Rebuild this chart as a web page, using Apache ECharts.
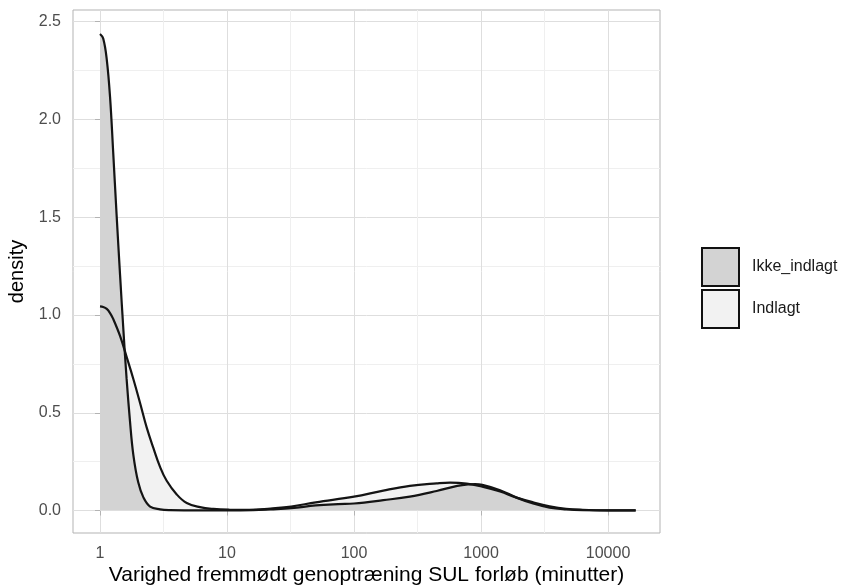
<!DOCTYPE html>
<html>
<head>
<meta charset="utf-8">
<script src="https://cdn.jsdelivr.net/npm/echarts@6/dist/echarts.min.js"></script>
<style>
  html, body { margin: 0; padding: 0; background: #fff; }
  #chart { width: 845px; height: 586px; }
</style>
</head>
<body>
<div id="chart"></div>
<script>
// density curves (x in minutes, log scale)
const ikkeMinutes = [1, 1.06, 1.13, 1.2, 1.27, 1.35, 1.44, 1.53, 1.62, 1.72, 1.83, 2.0, 2.2, 2.48, 2.97, 3.55, 5, 10, 16, 22,
  32, 50, 75, 100, 170, 275, 447, 650, 813, 900, 1023, 1413, 1905, 2570, 3467, 4677, 6310, 10000, 16500]
const ikkeDensity = [2.437, 2.414, 2.308, 2.114, 1.833, 1.516, 1.2, 0.918, 0.673, 0.461, 0.285, 0.144, 0.066, 0.02, 0.006, 0.002, 0.001, 0.0005, 0.002, 0.006,
  0.012, 0.026, 0.033, 0.036, 0.053, 0.071, 0.1, 0.126, 0.134, 0.135, 0.131, 0.104, 0.066, 0.036, 0.015, 0.006, 0.002, 0.001, 0.0005]

const indlagtMinutes = [1, 1.06, 1.13, 1.2, 1.27, 1.44, 1.62, 1.83, 2.07, 2.33, 2.63, 2.97, 3.35, 4.02, 4.82, 6.12, 7.8, 10.5, 15, 22, 32, 50,
  100, 170, 275, 447, 570, 770, 1023, 1413, 1905, 2570, 3467, 4677, 6310, 10000, 16500]
const indlagtDensity = [1.044, 1.041, 1.031, 1.01, 0.98, 0.892, 0.786, 0.673, 0.549, 0.425, 0.32, 0.223, 0.152, 0.082, 0.038, 0.017, 0.008, 0.004, 0.003, 0.01, 0.02, 0.042,
  0.071, 0.102, 0.126, 0.139, 0.143, 0.138, 0.122, 0.097, 0.066, 0.042, 0.022, 0.009, 0.004, 0.001, 0.0005]

const groups = ['Ikke_indlagt', 'Indlagt']
const fills = { Ikke_indlagt: '#d3d3d3', Indlagt: '#f2f2f2' }

const xTicks = [1, 10, 100, 1000, 10000]
const xMinor = [3.1623, 31.623, 316.23, 3162.3]
const yTicks = [0, 0.5, 1.0, 1.5, 2.0, 2.5]
const yMinor = [0.25, 0.75, 1.25, 1.75, 2.25]

const FONT = '"Liberation Sans", Arial, sans-serif'
const lg = v => Math.log10(v)
const pts = (xs, ys) => xs.map((x, i) => [lg(x), ys[i]])

const chart = echarts.init(document.getElementById('chart'))

const xBase = { type: 'value', min: -0.2126, max: 4.409 }
const yBase = { type: 'value', min: -0.115, max: 2.56 }

const areaSeries = (name, data) => ({
  name, type: 'line', data, smooth: 0.4, symbol: 'none', z: 2, silent: true,
  lineStyle: { width: 0, opacity: 0 },
  areaStyle: { color: fills[name], opacity: 1 }
})
const lineSeries = (name, data) => ({
  name, type: 'line', data, smooth: 0.4, symbol: 'none', z: 3, silent: true,
  lineStyle: { color: '#141414', width: 2.2 }
})

const option = {
  animation: false,
  backgroundColor: '#fff',
  textStyle: { fontFamily: FONT },
  grid: {
    left: 73, right: 185, top: 10, bottom: 53,
    outerBoundsMode: 'none', containLabel: false,
    show: true, borderColor: '#b3b3b3', borderWidth: 1, backgroundColor: '#fff'
  },
  legend: {
    orient: 'vertical', left: 701, top: 247, padding: 0,
    itemWidth: 37, itemHeight: 38, itemGap: 2,
    icon: 'rect',
    textStyle: { fontSize: 16, color: '#1a1a1a', fontFamily: FONT, padding: [0, 0, 0, 8] },
    data: groups.map(g => ({
      name: g,
      itemStyle: { color: fills[g], borderColor: '#111', borderWidth: 2 }
    }))
  },
  xAxis: [
    Object.assign({}, xBase, {
      position: 'bottom',
      name: 'Varighed fremmødt genoptræning SUL forløb (minutter)',
      nameLocation: 'middle', nameGap: 32, nameMoveOverlap: false,
      nameTextStyle: { fontSize: 21, color: '#000', fontFamily: FONT },
      axisLine: { show: false },
      axisTick: { show: true, length: 5, customValues: xTicks.map(lg), lineStyle: { color: '#b3b3b3' } },
      axisLabel: {
        customValues: xTicks.map(lg), margin: 13, fontSize: 16, color: '#4d4d4d', fontFamily: FONT,
        formatter: v => String(Math.round(Math.pow(10, v)))
      },
      splitLine: { show: true, lineStyle: { color: '#dedede', width: 1 } }
    }),
    Object.assign({}, xBase, {
      position: 'top',
      axisLine: { show: false },
      axisTick: { show: false, customValues: xMinor.map(lg) },
      axisLabel: { show: false, customValues: xMinor.map(lg) },
      splitLine: { show: true, lineStyle: { color: '#efefef', width: 1 } }
    })
  ],
  yAxis: [
    Object.assign({}, yBase, {
      position: 'left',
      name: 'density', nameLocation: 'middle', nameGap: 46, nameMoveOverlap: false,
      nameTextStyle: { fontSize: 20, color: '#000', fontFamily: FONT },
      axisLine: { show: false },
      axisTick: { show: true, length: 5, customValues: yTicks, lineStyle: { color: '#b3b3b3' } },
      axisLabel: {
        customValues: yTicks, margin: 12, fontSize: 16, color: '#4d4d4d', fontFamily: FONT,
        formatter: v => v.toFixed(1)
      },
      splitLine: { show: true, lineStyle: { color: '#dedede', width: 1 } }
    }),
    Object.assign({}, yBase, {
      position: 'right',
      axisLine: { show: false },
      axisTick: { show: false, customValues: yMinor },
      axisLabel: { show: false, customValues: yMinor },
      splitLine: { show: true, lineStyle: { color: '#efefef', width: 1 } }
    })
  ],
  series: [
    areaSeries('Indlagt', pts(indlagtMinutes, indlagtDensity)),
    areaSeries('Ikke_indlagt', pts(ikkeMinutes, ikkeDensity)),
    lineSeries('Indlagt', pts(indlagtMinutes, indlagtDensity)),
    lineSeries('Ikke_indlagt', pts(ikkeMinutes, ikkeDensity))
  ]
}

chart.setOption(option)
</script>
</body>
</html>
